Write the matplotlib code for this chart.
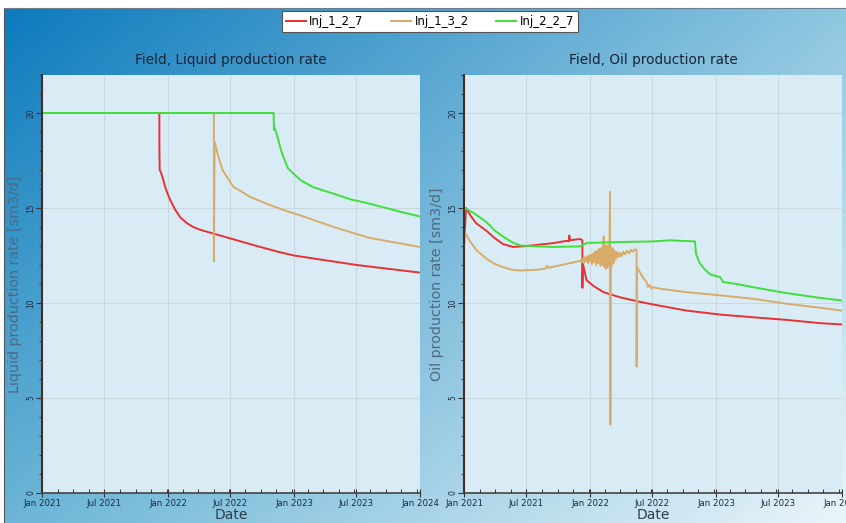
import numpy as np
import pandas as pd
import matplotlib
matplotlib.use("Agg")
import matplotlib.pyplot as plt
import matplotlib.dates as mdates
from matplotlib.ticker import MultipleLocator, AutoMinorLocator

# ---- Liquid production rate (left panel) ----
liq_1_2_7_dates = ["2021-01-01", "2021-12-07", "2021-12-07", "2021-12-08", "2021-12-11",
                   "2021-12-18", "2021-12-24", "2022-01-01", "2022-01-08", "2022-01-22",
                   "2022-02-06", "2022-02-25", "2022-03-15", "2022-04-05", "2022-05-13",
                   "2022-07-10", "2022-09-15", "2022-11-15", "2023-01-01", "2023-04-01",
                   "2023-07-02", "2023-10-01", "2024-01-01"]
liq_1_2_7 = [20, 20, 18.2, 17.0, 16.9, 16.5, 16.1, 15.7, 15.4, 14.9,
             14.5, 14.2, 14.0, 13.85, 13.65, 13.35, 13.0, 12.7, 12.5, 12.25,
             12.0, 11.8, 11.6]

liq_1_3_2_dates = ["2021-01-01", "2022-05-14", "2022-05-14", "2022-05-16", "2022-05-24",
                   "2022-06-01", "2022-06-08", "2022-06-22", "2022-07-10", "2022-07-30",
                   "2022-08-25", "2022-10-17", "2022-12-01", "2023-01-21", "2023-04-26",
                   "2023-08-03", "2023-10-15", "2024-01-01"]
liq_1_3_2 = [20, 20, 12.2, 18.5, 17.9, 17.4, 17.0, 16.6, 16.1, 15.9,
             15.6, 15.2, 14.9, 14.6, 14.0, 13.45, 13.2, 12.95]

liq_2_2_7_dates = ["2021-01-01", "2022-11-03", "2022-11-04", "2022-11-06", "2022-11-15",
                   "2022-11-22", "2022-11-29", "2022-12-14", "2022-12-31", "2023-01-21",
                   "2023-02-25", "2023-04-26", "2023-06-15", "2023-08-03", "2023-11-06",
                   "2024-01-01"]
liq_2_2_7 = [20, 20, 19.1, 19.2, 18.7, 18.2, 17.8, 17.1, 16.8, 16.45,
             16.1, 15.75, 15.45, 15.25, 14.8, 14.55]

# ---- Oil production rate (right panel) ----
oil_1_2_7_dates = ["2021-01-01", "2021-01-07", "2021-01-20", "2021-02-05", "2021-02-20",
                   "2021-03-07", "2021-04-01", "2021-04-24", "2021-05-23", "2021-07-02",
                   "2021-09-16", "2021-10-25", "2021-11-01", "2021-11-02", "2021-11-04",
                   "2021-12-03", "2021-12-10", "2021-12-10", "2021-12-11", "2021-12-22",
                   "2022-01-11", "2022-02-09", "2022-03-29", "2022-05-16", "2022-07-03",
                   "2022-10-08", "2023-01-13", "2023-04-18", "2023-07-25", "2023-10-29",
                   "2024-01-01"]
oil_1_2_7 = [13.0, 15.0, 14.6, 14.2, 14.0, 13.8, 13.4, 13.1, 12.95, 13.0,
             13.15, 13.27, 13.25, 13.55, 13.3, 13.37, 13.3, 10.8, 12.1, 11.2,
             10.9, 10.57, 10.3, 10.1, 9.92, 9.6, 9.39, 9.25, 9.11, 8.94,
             8.87]

oil_1_3_2_dates = ["2021-01-01", "2021-01-03", "2021-01-20", "2021-02-07", "2021-03-07",
                   "2021-04-01", "2021-04-24", "2021-05-20", "2021-06-12", "2021-07-31",
                   "2021-08-24", "2021-08-30", "2021-09-03", "2021-11-04", "2021-12-03",
                   "2021-12-05", "2021-12-08", "2021-12-11", "2021-12-14", "2021-12-17",
                   "2021-12-20", "2021-12-23", "2021-12-26", "2021-12-29", "2022-01-01",
                   "2022-01-04", "2022-01-07", "2022-01-10", "2022-01-13", "2022-01-16",
                   "2022-01-19", "2022-01-22", "2022-01-25", "2022-01-28", "2022-01-31",
                   "2022-02-03", "2022-02-06", "2022-02-08", "2022-02-10", "2022-02-12",
                   "2022-02-14", "2022-02-16", "2022-02-18", "2022-02-20", "2022-02-22",
                   "2022-02-24", "2022-02-26", "2022-02-28", "2022-03-01", "2022-03-02",
                   "2022-03-04", "2022-03-07", "2022-03-10", "2022-03-13", "2022-03-16",
                   "2022-03-20", "2022-03-24", "2022-03-28", "2022-04-02", "2022-04-07",
                   "2022-04-12", "2022-04-18", "2022-04-24", "2022-04-30", "2022-05-05",
                   "2022-05-11", "2022-05-16", "2022-05-16", "2022-05-17", "2022-05-26",
                   "2022-06-05", "2022-06-14", "2022-06-18", "2022-06-23", "2022-06-28",
                   "2022-07-03", "2022-07-23", "2022-10-08", "2023-01-13", "2023-04-19",
                   "2023-07-25", "2023-10-29", "2024-01-01"]
oil_1_3_2 = [13.0, 13.75, 13.2, 12.77, 12.33, 12.05, 11.89, 11.75, 11.71, 11.75,
             11.8, 11.95, 11.85, 12.1, 12.21,
             12.25, 12.15, 12.35, 12.1, 12.4, 12.2, 12.45, 12.1, 12.5, 12.2,
             12.55, 12.05, 12.6, 12.15, 12.7, 12.0, 12.75, 12.1, 12.85, 11.95,
             12.9, 12.0, 13.1, 13.5, 11.9, 12.95, 11.8, 13.05, 11.85, 12.9,
             13.0, 12.0, 15.85, 3.6, 12.6, 11.9, 12.9, 12.1, 12.75, 12.3,
             12.7, 12.4, 12.65, 12.45, 12.7, 12.55, 12.75, 12.6, 12.8, 12.7,
             12.82, 12.8, 6.65, 11.9, 11.6, 11.3, 11.1, 10.85, 10.95, 10.75,
             10.83, 10.75, 10.57, 10.4, 10.22, 9.96, 9.75, 9.6]

oil_2_2_7_dates = ["2021-01-01", "2021-01-03", "2021-02-01", "2021-03-07", "2021-04-01",
                   "2021-04-24", "2021-05-20", "2021-06-12", "2021-07-31", "2021-09-16",
                   "2021-12-03", "2021-12-22", "2022-03-29", "2022-07-03", "2022-08-21",
                   "2022-11-01", "2022-11-04", "2022-11-10", "2022-11-16", "2022-11-28",
                   "2022-12-15", "2023-01-13", "2023-01-22", "2023-03-02", "2023-04-19",
                   "2023-07-25", "2023-10-29", "2024-01-01"]
oil_2_2_7 = [14.6, 15.0, 14.7, 14.26, 13.8, 13.5, 13.2, 13.03, 12.98, 12.95,
             12.98, 13.16, 13.21, 13.24, 13.3, 13.24, 12.6, 12.3, 12.07, 11.8,
             11.5, 11.36, 11.1, 11.0, 10.83, 10.52, 10.27, 10.13]

labels = ["Inj_1_2_7", "Inj_1_3_2", "Inj_2_2_7"]
colors = ["#e63232", "#d8ac68", "#3ee03a"]

W, H = 846, 523
fig = plt.figure(figsize=(W / 100, H / 100), dpi=100, facecolor="white")

# gradient background
bg = fig.add_axes([4 / W, 0, 1 - 4 / W, (H - 8) / H], zorder=-5)
tl = np.array([0.05, 0.48, 0.74])
tr = np.array([0.56, 0.78, 0.88])
bl = np.array([0.42, 0.71, 0.84])
br = np.array([0.92, 0.96, 0.98])
u = np.linspace(0, 1, 200)[None, :, None]
v = np.linspace(0, 1, 150)[:, None, None]
grad = (1 - v) * ((1 - u) * tl + u * tr) + v * ((1 - u) * bl + u * br)
bg.imshow(grad, extent=[0, 1, 0, 1], aspect="auto", interpolation="bilinear")
bg.set_xticks([])
bg.set_yticks([])
for s in ["right", "bottom"]:
    bg.spines[s].set_visible(False)
bg.spines["left"].set_color("#555555")
bg.spines["top"].set_color("#6a8090")

ax_w = 378 / W
ax_b = 30 / H
ax_h = 418 / H
ax1 = fig.add_axes([42 / W, ax_b, ax_w, ax_h])
ax2 = fig.add_axes([464 / W, ax_b, ax_w, ax_h])

panels = [
    (ax1, "Field, Liquid production rate", "Liquid production rate [sm3/d]",
     [(liq_1_2_7_dates, liq_1_2_7), (liq_1_3_2_dates, liq_1_3_2), (liq_2_2_7_dates, liq_2_2_7)]),
    (ax2, "Field, Oil production rate", "Oil production rate [sm3/d]",
     [(oil_1_2_7_dates, oil_1_2_7), (oil_1_3_2_dates, oil_1_3_2), (oil_2_2_7_dates, oil_2_2_7)]),
]

for ax, title, ylab, series in panels:
    ax.set_facecolor("#d9ecf5")
    for (d, vals), lab, c in zip(series, labels, colors):
        ax.plot(pd.to_datetime(d), vals, color=c, lw=1.4, label=lab)
    ax.set_xlim(pd.Timestamp("2021-01-01"), pd.Timestamp("2024-01-01"))
    ax.set_ylim(0, 22)
    ax.xaxis.set_major_locator(mdates.MonthLocator(bymonth=[1, 7]))
    ax.xaxis.set_major_formatter(mdates.DateFormatter("%b %Y"))
    ax.xaxis.set_minor_locator(AutoMinorLocator(4))
    ax.yaxis.set_major_locator(MultipleLocator(5))
    ax.yaxis.set_minor_locator(MultipleLocator(1))
    ax.grid(True, which="major", color="#cad7df", lw=0.7)
    ax.set_axisbelow(True)
    ax.tick_params(axis="x", which="major", direction="inout", length=6, width=0.8,
                   labelsize=6.2, labelcolor="#1c2a44", color="#333333", pad=1)
    ax.tick_params(axis="x", which="minor", direction="in", length=3, width=0.7, color="#333333")
    ax.tick_params(axis="y", which="major", direction="out", length=4, width=0.8,
                   labelsize=5.5, labelcolor="#1c2a44", color="#333333", pad=1)
    ax.tick_params(axis="y", which="minor", direction="out", length=2, width=0.6, color="#333333")
    for t in ax.get_yticklabels():
        t.set_rotation(90)
        t.set_va("center")
    ax.spines["top"].set_visible(False)
    ax.spines["right"].set_visible(False)
    ax.spines["left"].set_color("#4a2a24")
    ax.spines["left"].set_linewidth(1.5)
    ax.spines["bottom"].set_color("#444444")
    ax.spines["bottom"].set_linewidth(1.2)
    ax.set_title(title, fontsize=9.8, color="#1a2436", pad=8)
    ax.set_ylabel(ylab, fontsize=10.3, color="#4d6a80", labelpad=3)
    ax.set_xlabel("Date", fontsize=10, color="#2e3c4c", labelpad=0)

handles, labs = ax1.get_legend_handles_labels()
leg = fig.legend(handles, labs, loc="upper center", bbox_to_anchor=(0.508, 0.99), ncol=3,
                 fontsize=8.5, frameon=True, fancybox=False, edgecolor="#555555",
                 handlelength=1.7, handletextpad=0.3, columnspacing=2.3,
                 borderpad=0.35, framealpha=1)
leg.get_frame().set_linewidth(0.8)

fig.savefig("out.png", dpi=100, facecolor="white")
